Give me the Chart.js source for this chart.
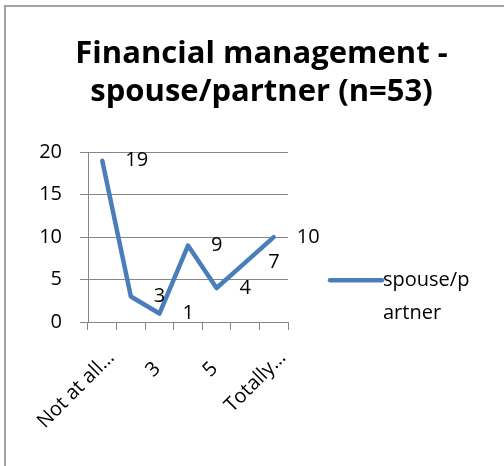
<!DOCTYPE html>
<html>
<head>
<meta charset="utf-8">
<script src="https://cdn.jsdelivr.net/npm/chart.js@4"></script>
<style>
  html, body { margin: 0; padding: 0; background: #fff; }
  #wrap { position: relative; width: 504px; height: 466px; overflow: hidden; }
  #frame { position: absolute; left: 4px; top: 5px; width: 700px; height: 700px;
           border-left: 2px solid #a3a3a3; border-top: 2px solid #a3a3a3; }
  canvas { position: absolute; left: 0; top: 0; }
</style>
</head>
<body>
<div id="wrap">
  <div id="frame"></div>
  <canvas id="chart" width="504" height="466"></canvas>
</div>
<script>
// data
const categories = ["Not at all…", "2", "3", "4", "5", "6", "Totally…"];
const values = [19, 3, 1, 9, 4, 7, 10];
const seriesName = ["spouse/p", "artner"];
const titleLines = ["Financial management -", "spouse/partner (n=53)"];
const yTicks = [0, 5, 10, 15, 20];

const FONT = "'Open Sans', 'Liberation Sans', sans-serif";
const LINE = "#4a7ebb";
const GRID = "#868686";

// value labels to the right of each point
const valueLabels = {
  id: "valueLabels",
  afterDatasetsDraw(chart) {
    const ctx = chart.ctx;
    const meta = chart.getDatasetMeta(0);
    ctx.save();
    ctx.font = "20px " + FONT;
    ctx.fillStyle = "#000";
    ctx.textAlign = "left";
    ctx.textBaseline = "middle";
    meta.data.forEach((pt, i) => {
      ctx.fillText(String(values[i]), pt.x + 23, pt.y);
    });
    ctx.restore();
  }
};

// legend on the right, text wraps onto two lines
const sideLegend = {
  id: "sideLegend",
  afterDraw(chart) {
    const ctx = chart.ctx;
    const a = chart.chartArea;
    const x0 = a.right + 42, y0 = a.top + 128;
    ctx.save();
    ctx.strokeStyle = LINE;
    ctx.lineWidth = 4.5;
    ctx.lineCap = "round";
    ctx.beginPath();
    ctx.moveTo(x0, y0);
    ctx.lineTo(x0 + 52, y0);
    ctx.stroke();
    ctx.font = "20px " + FONT;
    ctx.fillStyle = "#000";
    ctx.textBaseline = "middle";
    seriesName.forEach((t, i) => ctx.fillText(t, x0 + 53, y0 + i * 33));
    ctx.restore();
  }
};

new Chart(document.getElementById("chart"), {
  type: "line",
  data: {
    labels: categories,
    datasets: [{
      label: seriesName.join(""),
      data: values,
      borderColor: LINE,
      borderWidth: 4.5,
      borderJoinStyle: "round",
      borderCapStyle: "round",
      pointRadius: 0,
      tension: 0,
      fill: false
    }]
  },
  options: {
    responsive: false,
    animation: false,
    events: [],
    layout: { padding: { left: 19, right: 0, top: 0, bottom: 0 } },
    plugins: {
      legend: { display: false },
      tooltip: { enabled: false },
      title: {
        display: true,
        text: titleLines,
        color: "#000",
        font: { family: FONT, size: 31, weight: "bold", lineHeight: 1.23 },
        padding: { top: 35, bottom: 41 }
      }
    },
    scales: {
      x: {
        offset: true,
        grid: { offset: true, drawOnChartArea: false, drawTicks: true, tickLength: 8, color: GRID },
        border: { display: true, color: GRID },
        ticks: {
          autoSkip: false,
          maxRotation: 45,
          minRotation: 45,
          padding: 16,
          labelOffset: 9,
          color: "#000",
          font: { family: FONT, size: 20 },
          // every other category; short labels padded so they sit lower like the long ones
          callback: (v, i) => (i % 2 === 0 ? categories[i].padEnd(4) : "")
        },
        afterFit: s => { s.height = 144; }
      },
      y: {
        min: yTicks[0],
        max: yTicks[yTicks.length - 1],
        afterBuildTicks: s => { s.ticks = yTicks.map(v => ({ value: v })); },
        grid: { color: GRID, tickLength: 8 },
        border: { display: true, color: GRID },
        ticks: { padding: 18, color: "#000", font: { family: FONT, size: 20 } },
        afterFit: s => { s.width = 69; }
      },
      // keeps room on the right for the legend
      legendSpace: {
        type: "linear",
        position: "right",
        display: true,
        grid: { display: false },
        border: { display: false },
        ticks: { display: false },
        afterFit: s => { s.width = 216; }
      }
    }
  },
  plugins: [valueLabels, sideLegend]
});
</script>
</body>
</html>
